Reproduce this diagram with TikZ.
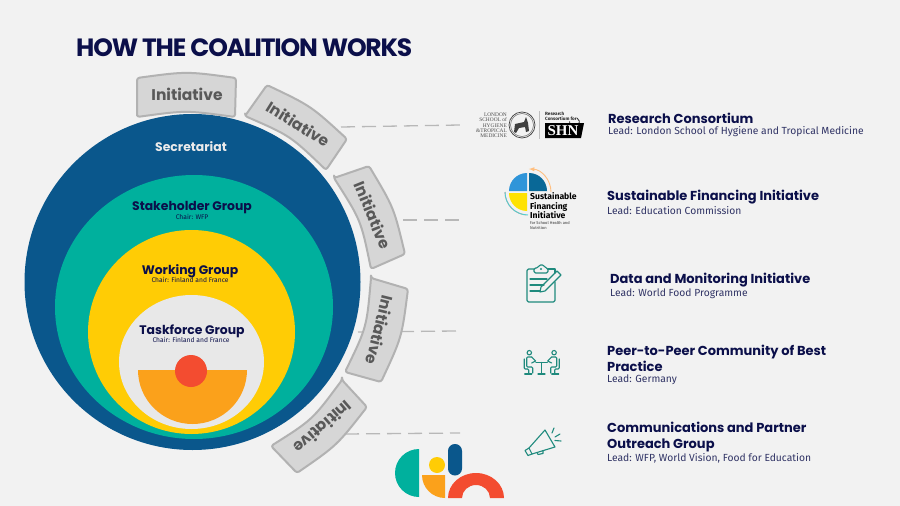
\documentclass[tikz,border=0pt]{standalone}
\usepackage{fontspec}
\setmainfont{Fira Sans}
\newfontfamily\logoserif{Liberation Serif}
\newfontfamily\headface{Poppins}
\newfontfamily\titleface[LetterSpace=-4.8]{Poppins}
\definecolor{coalNavy}{HTML}{0B0F4A}
\definecolor{coalBlue}{HTML}{0A578C}
\definecolor{coalTeal}{HTML}{00B09D}
\definecolor{coalYellow}{HTML}{FFCC05}
\definecolor{coalOrange}{HTML}{FBA11B}
\definecolor{coalRed}{HTML}{F34C30}
\definecolor{coalIcon}{HTML}{1F8A7D}
\tikzset{
  tabshape/.style={fill=black!16, draw=black!30, line width=2pt, rounded corners=2.5pt, line join=round},
  tablabel/.style={inner sep=0pt, text=black!65, font=\fontsize{15.5}{16}\selectfont\headface\bfseries},
  dashline/.style={draw=black!28, line width=1.3pt, dash pattern=on 14pt off 7pt},
  ringname/.style={inner sep=0pt, text=coalNavy, font=\fontsize{12.4}{14}\selectfont\headface\bfseries},
  ringchair/.style={inner sep=0pt, text=coalNavy, font=\fontsize{6.7}{7}\selectfont},
  headtext/.style={inner sep=0pt, anchor=west, align=left, text=coalNavy, font=\fontsize{13}{16}\selectfont\headface\bfseries},
  leadtext/.style={inner sep=0pt, anchor=west, text=coalNavy!85, font=\fontsize{10.3}{12}\selectfont},
  iconline/.style={draw=coalIcon, line width=1.1pt, line join=round, line cap=round},
}
\begin{document}
\begin{tikzpicture}
\begin{scope}[x=1pt, y=-1pt]
  % Background
  \fill[black!5] (0,0) rectangle (900,506);
  \useasboundingbox (0,0) rectangle (900,506);
  \node[inner sep=0pt, anchor=west, text=coalNavy, font=\fontsize{25}{27}\selectfont\titleface\bfseries] (title) at (76,48) {HOW THE COALITION WORKS};
  % Dashed lines, tabs sit on top of them
  \coordinate (lineAfrom) at (341,127);
  \coordinate (lineAto) at (460,125);
  \coordinate (lineBfrom) at (403,220);
  \coordinate (lineBto) at (460,220);
  \coordinate (lineCfrom) at (358,332);
  \coordinate (lineCto) at (456,331);
  \coordinate (lineDfrom) at (345,434);
  \coordinate (lineDto) at (460,433);
  \draw[dashline] (lineAfrom) -- (lineAto);
  \draw[dashline] (lineBfrom) -- (lineBto);
  \draw[dashline] (lineCfrom) -- (lineCto);
  \draw[dashline] (lineDfrom) -- (lineDto);
  % Nested rings
  \fill[coalBlue] (192.5,282) circle [radius=168];
  \fill[coalTeal] (194,307) ellipse [x radius=139, y radius=132];
  \fill[coalYellow] (191.5,332) ellipse [x radius=103.5, y radius=102];
  \fill[black!9] (191.5,362) ellipse [x radius=72.5, y radius=67];
  \fill[coalOrange] (138,370) arc [start angle=180, end angle=0, x radius=54.5, y radius=54] -- cycle;
  \fill[coalRed] (191,371) circle [radius=16];
  \node[ringname, text=black!8] (secretariat) at (191,147) {Secretariat};
  \node[ringname] (stakeholder) at (192,208) {Stakeholder Group};
  \node[ringchair] (stakeholderchair) at (192,217) {Chair: WFP};
  \node[ringname] (working) at (190,271) {Working Group};
  \node[ringchair] (workingchair) at (190,280) {Chair: Finland and France};
  \node[ringname] (taskforce) at (192,331.5) {Taskforce Group};
  \node[ringchair] (taskforcechair) at (191,340) {Chair: Finland and France};
  % Tabs round the outer ring
  \draw[tabshape] (137,117) -- (137,78) .. controls (186.5,71.3) .. (236,78) -- (235,117) .. controls (186,110.3) .. cycle;
  \draw[tabshape] (245,116) -- (267,85) .. controls (311,106) .. (347,139) -- (326,170) .. controls (290.3,135.8) .. cycle;
  \draw[tabshape] (334,178) -- (369,166) .. controls (393.8,207.5) .. (405,254) -- (371,269) .. controls (361,220.4) .. cycle;
  \draw[tabshape] (371,278) -- (408,289) .. controls (401.8,337.4) .. (381,382) -- (345,372) .. controls (366.7,327.3) .. cycle;
  \draw[tabshape] (342,380) -- (367,407) .. controls (336.8,445.5) .. (297,473) -- (271,446) .. controls (312.4,419.8) .. cycle;
  \node[tablabel] (tabone) at (187,94) {Initiative};
  \node[tablabel, rotate=-32] (tabtwo) at (298,124) {Initiative};
  \node[tablabel, rotate=-68] (tabthree) at (373,215) {Initiative};
  \node[tablabel, rotate=-104] (tabfour) at (380,330) {Initiative};
  \node[tablabel, rotate=-139] (tabfive) at (323,427) {Initiative};
  % Right column
  \node[headtext] (research) at (608,118.5) {Research Consortium};
  \node[leadtext] (researchlead) at (608,132) {Lead: London School of Hygiene and Tropical Medicine};
  \node[headtext] (financing) at (607,197.5) {Sustainable Financing Initiative};
  \node[leadtext] (financinglead) at (607,211) {Lead: Education Commission};
  \node[headtext] (data) at (610,280.5) {Data and Monitoring Initiative};
  \node[leadtext] (datalead) at (610,293.5) {Lead: World Food Programme};
  \node[headtext] (peer) at (607,358.5) {Peer-to-Peer Community of Best\\Practice};
  \node[leadtext] (peerlead) at (607,380) {Lead: Germany};
  \node[headtext] (comms) at (607,437.5) {Communications and Partner\\Outreach Group};
  \node[leadtext] (commslead) at (607,458) {Lead: WFP, World Vision, Food for Education};
  % School logo
  \node[inner sep=0pt, anchor=east, align=right, font=\fontsize{5.4}{5.3}\selectfont\logoserif, text=black!70] (schoolname) at (507,125.5) {LONDON\\SCHOOL of\\HYGIENE\\\&TROPICAL\\MEDICINE};
  \draw[black!75, line width=0.7pt] (522,125) circle [radius=13];
  \draw[black!60, line width=0.5pt] (522,125) circle [radius=11.5];
  \fill[black!75] (515,124) -- (524,122) -- (526,117) -- (528,123) -- (529,131) -- (526,132) -- (525,127) -- (519,128) -- (516,133) -- (514,132) -- cycle;
  \draw[black!25, line width=0.8pt] (539,111) -- (539,139);
  \node[inner sep=0pt, anchor=west, align=left, font=\fontsize{4.6}{5}\selectfont\bfseries, text=black!85] (shnname) at (545,116.5) {Research\\Consortium for};
  \draw[black!85, line width=0.8pt] (577,118) arc [start angle=-60, end angle=190, radius=5];
  \fill[black] (545,123) -- (584,123) -- (581,138) -- (545,138) -- cycle;
  \node[inner sep=0pt, text=white, font=\fontsize{15}{15}\selectfont\logoserif\bfseries] (shn) at (563,130.5) {SHN};
  % Financing logo
  \fill[cyan!70!blue!85] (527,191) -- (509,191) arc [start angle=180, end angle=270, radius=18] -- cycle;
  \fill[coalBlue!90!cyan] (529,191) -- (529,173) arc [start angle=270, end angle=360, radius=18] -- cycle;
  \fill[yellow!85!orange] (527,193) -- (509,193) arc [start angle=180, end angle=90, radius=18] -- cycle;
  \draw[red!45, line width=0.9pt] (505,192) arc [start angle=180, end angle=95, radius=23];
  \draw[orange!50, line width=0.9pt, -latex] (551,192) arc [start angle=360, end angle=272, radius=23];
  \draw[teal!50!cyan!70, line width=0.9pt] (528,215) arc [start angle=90, end angle=180, radius=23];
  \node[inner sep=0pt, anchor=north west, align=left, font=\fontsize{8.6}{9.5}\selectfont\bfseries, text=black] (sfiname) at (530,192.5) {Sustainable\\Financing\\Initiative};
  \node[inner sep=0pt, anchor=north west, align=left, font=\fontsize{4}{5}\selectfont, text=black!80] (sfisub) at (530,221.5) {for School Health and\\Nutrition};
  % Clipboard
  \draw[iconline, rounded corners=1.5pt] (534,269) -- (527,269) -- (527,302) -- (555,302) -- (555,282);
  \draw[iconline] (555,273) -- (555,269) -- (548,269);
  \draw[iconline, rounded corners=1.5pt] (534,273) -- (534,268) -- (538,268) -- (539,265) -- (544,265) -- (545,268) -- (548,268) -- (548,273) -- cycle;
  \fill[coalIcon] (541,269) circle [radius=1.2];
  \draw[iconline] (530,279) -- (547,279);
  \draw[iconline] (530,285) -- (544,285);
  \draw[iconline] (530,291) -- (540,291);
  \draw[iconline] (540,292) -- (541,287) -- (557,271) -- (561,275) -- (545,291) -- cycle;
  % Two people at a table
  \draw[iconline] (536,362.3) -- (547.3,362.3);
  \draw[iconline] (541.7,362.3) -- (541.7,373);
  \draw[iconline] (538,374) -- (545,374);
  \foreach \sgn in {-1,1} {
    \draw[iconline] ({541.7+\sgn*12.4},352.7) circle [radius=2.2];
    \draw[iconline, rounded corners=1pt] ({541.7+\sgn*10},357) -- ({541.7+\sgn*15},357) -- ({541.7+\sgn*15},367) -- ({541.7+\sgn*9},367) -- ({541.7+\sgn*9},373);
    \draw[iconline] ({541.7+\sgn*10},357) -- ({541.7+\sgn*6},361) -- ({541.7+\sgn*10},363);
    \draw[iconline, rounded corners=1pt] ({541.7+\sgn*17.5},359) -- ({541.7+\sgn*17.5},369) -- ({541.7+\sgn*13},369) -- ({541.7+\sgn*13},374);
    \draw[iconline] ({541.7+\sgn*10},374) -- ({541.7+\sgn*17},374);
  }
  % Megaphone
  \draw[iconline] (529,448) -- (545,430) -- (555,447) -- (532,454) -- cycle;
  \draw[iconline] (529,448) -- (525,450.5) -- (528,455.5) -- (532,454);
  \draw[iconline] (537,452.5) -- (538,454.5) -- (543,453.5) -- (543,450.5);
  \draw[iconline] (552,433) -- (554,428);
  \draw[iconline] (555,437) -- (560,434);
  \draw[iconline] (555,440.5) -- (561,441);
  % Bottom logo
  \fill[coalTeal] (419,449) arc [start angle=270, end angle=90, x radius=24, y radius=24] -- cycle;
  \fill[coalYellow] (437,465) circle [radius=8];
  \fill[coalBlue, rounded corners=6.9pt] (448,444) rectangle (462,475.5);
  \fill[coalOrange] (422,475) -- (445,475) -- (445,498) arc [start angle=90, end angle=180, radius=23] -- cycle;
  \fill[coalRed] (448,498) arc [start angle=180, end angle=360, x radius=28, y radius=25] -- (490,498) arc [start angle=360, end angle=180, x radius=14, y radius=13] -- cycle;
\end{scope}
\end{tikzpicture}
\end{document}
